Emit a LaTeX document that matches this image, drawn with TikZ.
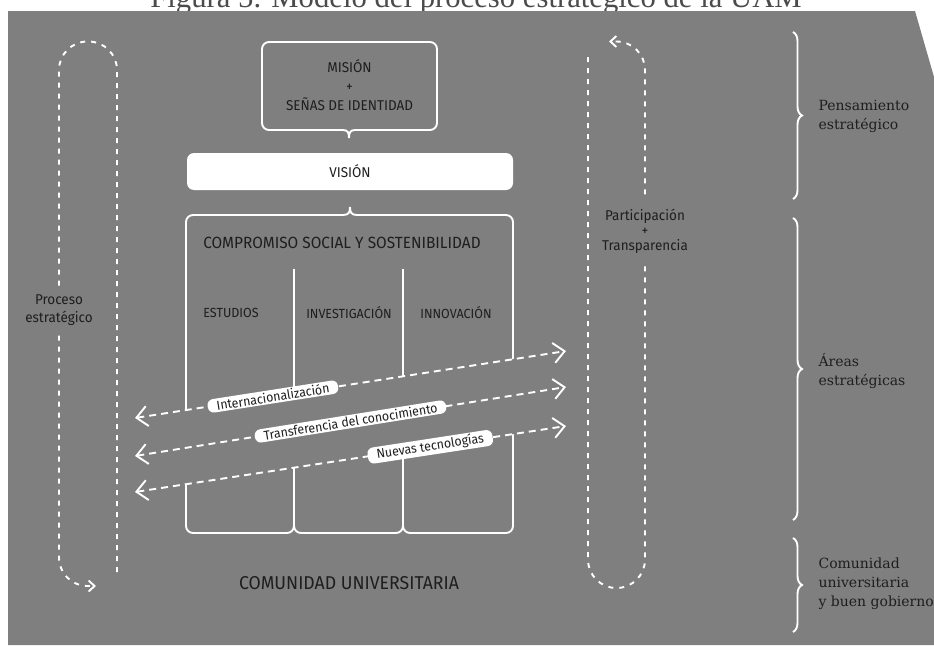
\documentclass[tikz,border=0pt]{standalone}
\usepackage{fontspec}
\usepackage{tikz}
\usetikzlibrary{arrows.meta,calc,decorations.pathreplacing}
\setmainfont{Liberation Serif}
\setsansfont[FakeStretch=0.95]{Fira Sans}
\newfontfamily\notefont{DejaVu Serif}
\definecolor{panel}{RGB}{127,127,127}
\definecolor{ink}{RGB}{30,30,30}
\newcommand{\fsz}[2]{\fontsize{#1}{#2}\selectfont}

\begin{document}
\begin{tikzpicture}[x=1pt,y=-1pt,
  wline/.style={white,line width=1.9pt},
  loopline/.style={wline,dash pattern=on 5pt off 6pt,rounded corners=28.5pt,-{Straight Barb[length=6pt,width=11pt]}},
  flow/.style={wline,dash pattern=on 7pt off 5pt,{Straight Barb[length=11pt,width=20pt]}-{Straight Barb[length=11pt,width=20pt]}},
  tag/.style={fill=white,text=ink,rounded corners=6pt,inner xsep=9pt,inner ysep=1.5pt,font=\sffamily\fsz{13}{15}},
  txt/.style={text=ink,font=\sffamily\fsz{14.2}{19},align=center},
  gap/.style={fill=panel,text=ink,font=\sffamily\fsz{14.2}{15},align=center,inner xsep=2pt},
  note/.style={text=ink,font=\notefont\fsz{14}{19},align=left,anchor=west},
  bracket/.style={wline,decorate,decoration={brace,amplitude=9pt}}]

\useasboundingbox (0,0) rectangle (934,645);
\clip (0,0) rectangle (934,645);

\node[anchor=base,text=ink!80,font=\fsz{30.7}{32}] (title) at (476,7) {Figura 5. Modelo del proceso estratégico de la UAM};
\fill[panel] (8,11) -- (915,11) -- (934,77) -- (934,645) -- (8,645) -- cycle;

% bucles laterales
\draw[loopline] (117,572) -- (117,41.5) -- (59,41.5) -- (59,586) -- (96,586);
\draw[loopline] (588,57) -- (588,588) -- (645,588) -- (645,41.5) -- (609,41.5);
\node[gap,inner ysep=9pt,font=\sffamily\fsz{14.2}{18}] (proceso) at (59,310) {Proceso\\estratégico};
\node[gap,inner ysep=12pt] (particip) at (645,231) {Participación\\+\\Transparencia};

% mision y vision
\draw[wline,rounded corners=7pt] (343,130) -- (262,130) -- (262,42) -- (437,42) -- (437,130) -- (355,130);
\draw[wline] (343,130) .. controls (348,130) and (349,133) .. (349,138) .. controls (349,133) and (350,130) .. (355,130);
\node[txt] (mision) at (349.5,85) {MISIÓN\\+\\SEÑAS DE IDENTIDAD};
\node[txt,fill=white,rounded corners=7pt,minimum width=326pt,minimum height=37pt] (vision) at (350,171.5) {VISIÓN};

% columnas
\draw[wline,rounded corners=7pt] (294,515) -- (294,533) -- (186,533) -- (186,215) -- (343,215);
\draw[wline,rounded corners=7pt] (357,215) -- (513,215) -- (513,533) -- (403,533) -- (403,515);
\draw[wline] (343,215) .. controls (349,215) and (350,212) .. (350,207) .. controls (350,212) and (351,215) .. (357,215);
\draw[wline,rounded corners=7pt] (294,269) -- (294,533) -- (403,533) -- (403,269);
\node[txt,font=\sffamily\fsz{16.2}{18}] (compromiso) at (342,243) {COMPROMISO SOCIAL Y SOSTENIBILIDAD};
\node[txt,font=\sffamily\fsz{13.2}{15}] (estudios) at (231,313) {ESTUDIOS};
\node[txt,font=\sffamily\fsz{13.2}{15}] (investig) at (349,313) {INVESTIGACIÓN};
\node[txt,font=\sffamily\fsz{13.2}{15}] (innova) at (456,313) {INNOVACIÓN};

% ejes transversales
\coordinate (i1) at (135,418); \coordinate (i2) at (566,351);
\coordinate (t1) at (135,456); \coordinate (t2) at (566,387);
\coordinate (n1) at (135,492); \coordinate (n2) at (566,426);
\fill[panel] ($(i1)!0.1!(i2)$) -- ($(i1)!0.9!(i2)$) -- ($(n1)!0.9!(n2)$) -- ($(n1)!0.1!(n2)$) -- cycle;
\draw[flow] (i1) -- node[tag,sloped,pos=0.32] (inter) {Internacionalización} (i2);
\draw[flow] (t1) -- node[tag,sloped,pos=0.5] (transf) {Transferencia del conocimiento} (t2);
\draw[flow] (n1) -- node[tag,sloped,pos=0.685] (nuevas) {Nuevas tecnologías} (n2);

\node[txt,font=\sffamily\fsz{18.6}{20}] (comunidad) at (349,583) {COMUNIDAD UNIVERSITARIA};

% llaves
\draw[bracket] (793,32) -- (793,199);
\draw[bracket] (793,218) -- (793,520);
\draw[bracket] (793,538) -- (793,632);
\node[note] (pens) at (815,116.5) {Pensamiento\\estratégico};
\node[note] (areas) at (815,371) {Áreas\\estratégicas};
\node[note] (comun) at (815,584) {Comunidad\\universitaria\\y buen gobierno};
\end{tikzpicture}
\end{document}
